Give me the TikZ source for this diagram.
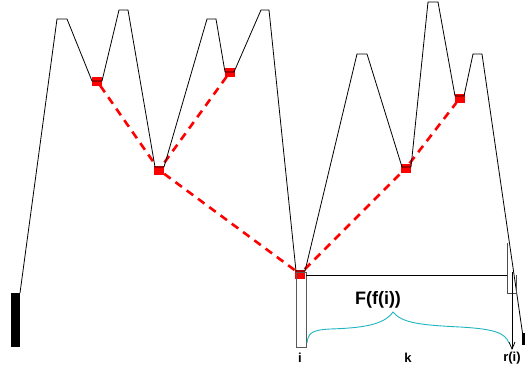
\documentclass[tikz,border=0pt]{standalone}
\usepackage{fontspec}
\setmainfont{Liberation Sans}
\usetikzlibrary{arrows.meta}
\definecolor{bracecol}{RGB}{30,180,192}
\tikzset{
  redsq/.style={fill=red, draw=none, minimum width=10pt, minimum height=9pt, inner sep=0pt},
  reddash/.style={red, line width=2.6pt, dash pattern=on 8pt off 6pt},
  ridge/.style={black, line width=0.8pt, line join=miter},
  lbl/.style={font=\bfseries\fontsize{13}{15}\selectfont, inner sep=0pt},
  biglbl/.style={font=\bfseries\fontsize{18}{20}\selectfont, inner sep=0pt},
}
\begin{document}
\begin{tikzpicture}[x=1pt,y=-1pt]
\useasboundingbox (0,0) rectangle (525,372);
% red nodes
\node[redsq] (a) at (97,81) {};
\node[redsq] (b) at (230,72) {};
\node[redsq] (c) at (159,170) {};
\node[redsq] (r) at (300,274) {};
\node[redsq] (d) at (406,168) {};
\node[redsq] (e) at (460,98) {};
% dashed tree edges
\draw[reddash] (a) -- (c);
\draw[reddash] (b) -- (c);
\draw[reddash] (c) -- (r);
\draw[reddash] (r) -- (d);
\draw[reddash] (d) -- (e);
% left and right bars
\fill[black] (10.7,292.7) rectangle (20.3,346.7);
\fill[black] (521.8,333) rectangle (524.5,345);
% ridge polyline
\draw[ridge] (20,293) -- (57,19) -- (67,19) -- (92,81) -- (102,81) -- (119,10) -- (128,10)
  -- (155,167) -- (164,167) -- (207,19) -- (216,19) -- (225,72) -- (234,72) -- (261,10) -- (269,10)
  -- (296,271) -- (305,271) -- (357,54) -- (367,54) -- (402,167) -- (411,167) -- (428,2) -- (438,2)
  -- (455,96) -- (464,96) -- (473,54) -- (482,54) -- (522.5,333);
% i box
\node[draw=black!65, line width=0.8pt, minimum width=9.5pt, minimum height=75pt, inner sep=0pt, anchor=north west] (ibox) at (296,271.5) {};
% horizontal line and small box
\coordinate (hl) at (507,275.5);
\draw[black, line width=0.8pt] (ibox.north east |- hl) -- (hl);
\draw[black!70, line width=0.8pt] (507,243) -- (507,293) -- (516.5,293) -- (516.5,275);
% arrow
\coordinate (atop) at (512,272);
\coordinate (abot) at (512,350);
\draw[black, line width=0.8pt, -{Straight Barb[length=7pt,width=6pt]}] (atop) -- (abot);
% brace
\draw[bracecol, line width=0.9pt] (307,343) .. controls (308,333) and (312,330) .. (330,329)
  .. controls (362,328) and (384,325) .. (393,312)
  .. controls (402,323) and (420,325) .. (460,327)
  .. controls (495,329) and (505,333) .. (509,343);
% labels
\node[biglbl] (F) at (378,300) {F(f(i))};
\node[lbl] (li) at (300,358) {i};
\node[lbl] (lk) at (408,358) {k};
\node[lbl] (lr) at (512,358) {r(i)};
\end{tikzpicture}
\end{document}
